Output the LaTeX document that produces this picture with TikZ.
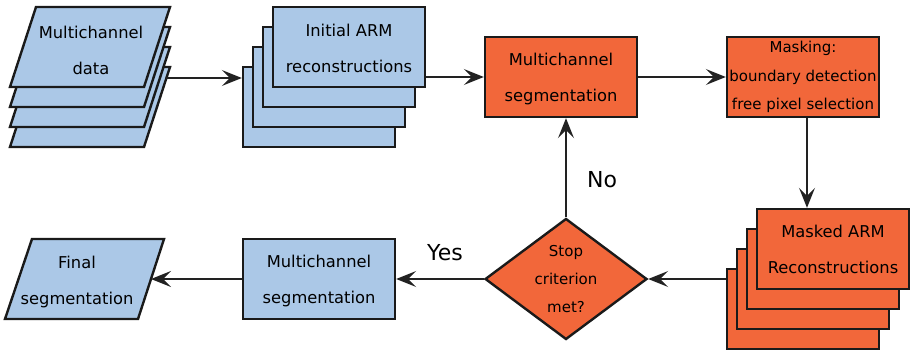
\documentclass[tikz,border=0pt]{standalone}
\usepackage{fontspec}
\setmainfont{DejaVu Sans}
\usetikzlibrary{shapes.geometric,arrows.meta}
\definecolor{bluefill}{RGB}{171,200,231}
\definecolor{orangefill}{RGB}{242,103,58}
\definecolor{edgecol}{RGB}{26,26,26}
\definecolor{conncol}{RGB}{34,34,34}
\newcommand\paral[2]{\draw[pshape] (#1,#2) ++(-54,-40) -- ++(134,0) -- ++(-26,80) -- ++(-134,0) -- cycle;}
\begin{document}
\begin{tikzpicture}[x=1pt,y=-1pt,
 box/.style={draw=edgecol, line width=2.4pt, minimum width=152pt, minimum height=80pt, inner sep=0pt, align=center, font=\fontsize{16.3}{36}\selectfont},
 bluebox/.style={box, fill=bluefill},
 orbox/.style={box, fill=orangefill},
 pshape/.style={draw=edgecol, line width=2.4pt, fill=bluefill, line join=miter},
 txt/.style={align=center, inner sep=0pt, font=\fontsize{16.3}{36}\selectfont},
 conn/.style={draw=conncol, line width=1.4pt, -{Stealth[length=20pt,width=16pt,inset=8pt]}},
 lbl/.style={font=\fontsize{22}{24}\selectfont, inner sep=0pt}
]
\useasboundingbox (0,0) rectangle (910,351);

% multichannel data stack
\paral{90}{107}
\paral{90}{87}
\paral{90}{67}
\paral{90}{47}
\node[txt] (data) at (91,50) {Multichannel\\data};

% initial ARM stack
\node[bluebox] (arm3) at (319,107) {};
\node[bluebox] (arm2) at (329,87) {};
\node[bluebox] (arm1) at (339,67) {};
\node[bluebox] (arm0) at (349,47) {};
\node[txt] (armtext) at ([yshift=-1.5pt]arm0.center) {Initial ARM\\reconstructions};

% multichannel segmentation (orange)
\node[orbox] (seg) at (561,77) {};
\node[txt] (segtext) at ([yshift=-2pt]seg.center) {Multichannel\\segmentation};

% masking
\node[orbox, font=\fontsize{15}{28.5}\selectfont] (mask) at (803,77) {Masking:\\boundary detection\\free pixel selection};

% masked ARM stack
\node[orbox] (marm3) at (803,309) {};
\node[orbox] (marm2) at (813,289) {};
\node[orbox] (marm1) at (823,269) {};
\node[orbox] (marm0) at (833,249) {Masked ARM\\Reconstructions};

% decision
\node[diamond, draw=edgecol, fill=orangefill, line width=2.4pt, minimum width=162pt, minimum height=121pt, inner sep=0pt, aspect=1.34, align=center, font=\fontsize{15}{28}\selectfont] (dia) at (566,279) {Stop\\criterion\\met?};

% bottom multichannel segmentation (blue)
\node[bluebox] (bseg) at (319,279) {};
\node[txt] (bsegtext) at ([yshift=-2pt]bseg.center) {Multichannel\\segmentation};

% final segmentation
\draw[pshape] (32,239) -- (164,239) -- (138,319) -- (5,319) -- cycle;
\node[txt] (final) at (77,282) {Final\\segmentation};

% connectors
\coordinate (dataout) at (166,78);
\coordinate (finalin) at (151,279);
\draw[conn] (dataout) -- (dataout -| arm3.west);
\draw[conn] (seg.west -| arm0.east) -- (seg.west);
\draw[conn] (seg.east) -- (mask.west);
\draw[conn] ([xshift=4pt]mask.south) -- ([xshift=4pt]mask.south |- marm0.north);
\draw[conn] (dia.east -| marm3.west) -- (dia.east);
\draw[conn] (dia.north) -- (dia.north |- seg.south);
\draw[conn] (dia.west) -- (bseg.east);
\draw[conn] (bseg.west) -- (finalin);

% labels
\node[lbl] (yes) at (445,253) {Yes};
\node[lbl] (no) at (602,180) {No};
\end{tikzpicture}
\end{document}
